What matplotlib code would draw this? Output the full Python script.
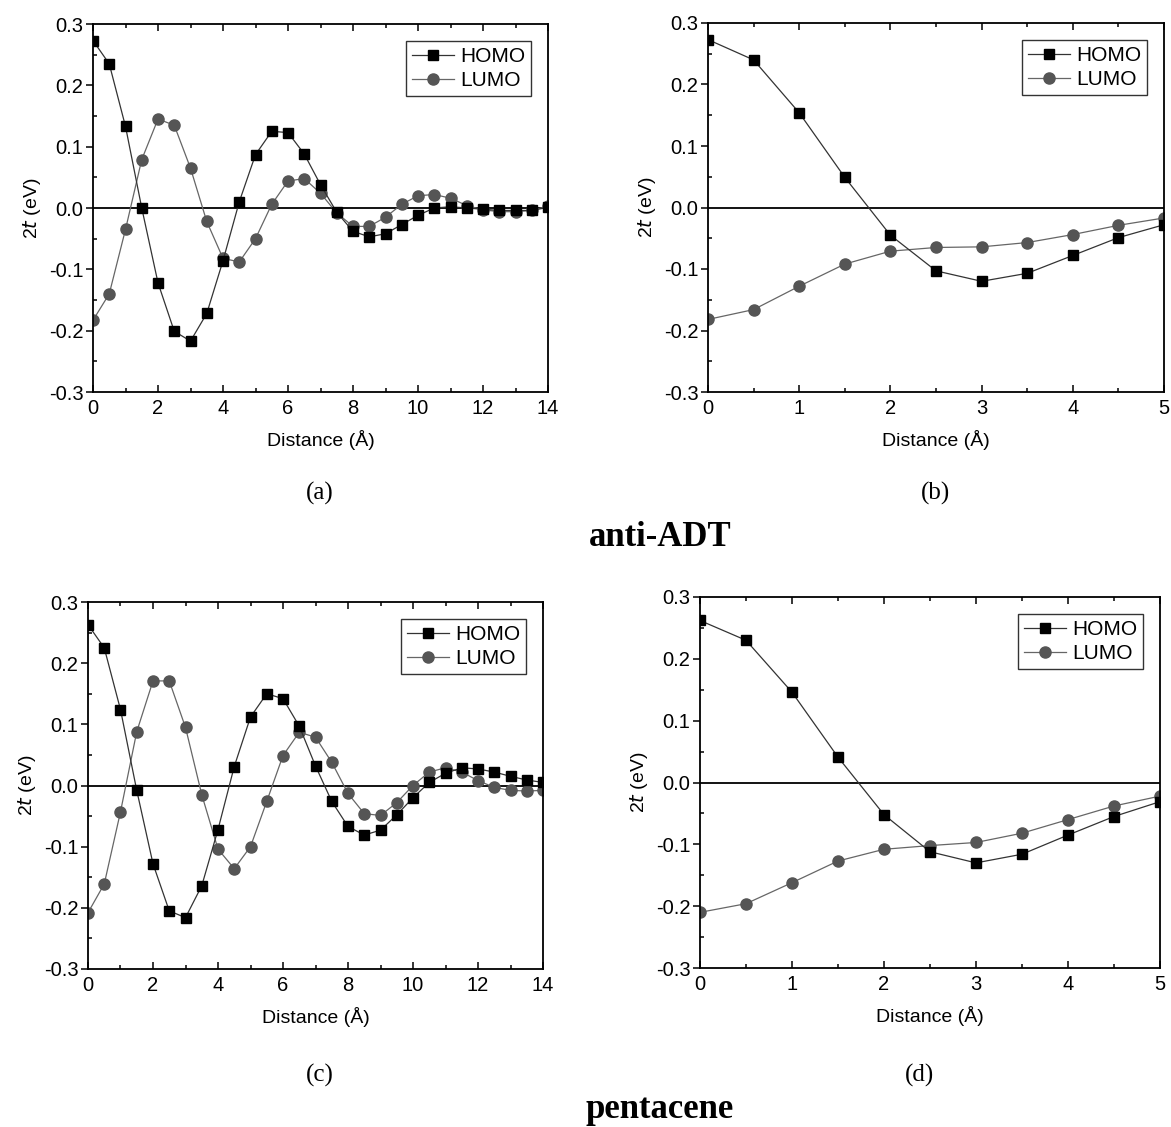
import matplotlib
matplotlib.use("Agg")
from matplotlib import pyplot as plt
from matplotlib.ticker import MultipleLocator

# distances (Angstrom)
x_long = [i * 0.5 for i in range(29)]   # 0 .. 14
x_short = [i * 0.5 for i in range(11)]  # 0 .. 5

# anti-ADT, long range
adt_homo_long = [0.273, 0.235, 0.133, 0.000, -0.122, -0.201, -0.217, -0.172, -0.086, 0.010,
                 0.087, 0.125, 0.123, 0.088, 0.038, -0.007, -0.038, -0.047, -0.042, -0.027,
                 -0.012, 0.000, 0.002, 0.000, -0.002, -0.004, -0.004, -0.004, 0.001]
adt_lumo_long = [-0.183, -0.140, -0.035, 0.079, 0.145, 0.135, 0.065, -0.022, -0.082, -0.088,
                 -0.050, 0.006, 0.044, 0.048, 0.024, -0.008, -0.030, -0.030, -0.015, 0.006,
                 0.020, 0.022, 0.016, 0.004, -0.003, -0.006, -0.006, -0.004, 0.003]
# anti-ADT, short range
adt_homo_short = [0.273, 0.240, 0.154, 0.049, -0.045, -0.103, -0.120, -0.107, -0.078, -0.049, -0.028]
adt_lumo_short = [-0.182, -0.166, -0.128, -0.092, -0.071, -0.065, -0.064, -0.057, -0.044, -0.029, -0.017]

# pentacene, long range
pen_homo_long = [0.263, 0.225, 0.124, -0.008, -0.128, -0.205, -0.216, -0.164, -0.072, 0.031,
                 0.112, 0.150, 0.142, 0.097, 0.032, -0.026, -0.067, -0.081, -0.073, -0.048,
                 -0.020, 0.005, 0.020, 0.029, 0.027, 0.022, 0.015, 0.009, 0.005]
pen_lumo_long = [-0.208, -0.161, -0.043, 0.088, 0.171, 0.171, 0.095, -0.015, -0.104, -0.136,
                 -0.100, -0.026, 0.049, 0.087, 0.079, 0.038, -0.013, -0.046, -0.049, -0.028,
                 0.000, 0.022, 0.029, 0.022, 0.008, -0.003, -0.008, -0.009, -0.008]
# pentacene, short range
pen_homo_short = [0.262, 0.230, 0.146, 0.041, -0.052, -0.112, -0.130, -0.116, -0.085, -0.055, -0.031]
pen_lumo_short = [-0.210, -0.196, -0.162, -0.127, -0.108, -0.102, -0.097, -0.082, -0.060, -0.038, -0.022]

W, H = 1171, 1127
fig = plt.figure(figsize=(W / 100, H / 100), dpi=100)
plt.rcParams['font.family'] = ['Liberation Sans', 'DejaVu Sans']


def box(l, t, r, b):
    return [l / W, 1 - b / H, (r - l) / W, (b - t) / H]


def panel(rect, xs, homo, lumo, xmax, xmajor, xminor):
    ax = fig.add_axes(rect)
    ax.axhline(0, color="black", lw=1.3, zorder=1)
    ax.plot(xs, homo, color="#333333", lw=0.9, marker="s", ms=7.5,
            mfc="black", mec="black", label="HOMO", zorder=3)
    ax.plot(xs, lumo, color="#666666", lw=0.9, marker="o", ms=8,
            mfc="#555555", mec="#555555", label="LUMO", zorder=2)
    ax.set_xlim(0, xmax)
    ax.set_ylim(-0.3, 0.3)
    ax.xaxis.set_major_locator(MultipleLocator(xmajor))
    ax.xaxis.set_minor_locator(MultipleLocator(xminor))
    ax.yaxis.set_major_locator(MultipleLocator(0.1))
    ax.yaxis.set_minor_locator(MultipleLocator(0.05))
    ax.yaxis.set_major_formatter(plt.FuncFormatter(lambda v, p: "%.1f" % v))
    ax.tick_params(axis="x", which="both", direction="in", top=True, labelsize=14.5, pad=5)
    ax.tick_params(axis="x", which="major", length=5, width=1.1)
    ax.tick_params(axis="x", which="minor", length=3, width=1.1)
    ax.tick_params(axis="y", which="major", direction="out", length=5, width=1.1,
                   labelsize=14.5, pad=2)
    ax.tick_params(axis="y", which="minor", direction="in", length=3, width=1.1)
    for s in ax.spines.values():
        s.set_linewidth(1.3)
    ax.set_xlabel("Distance (Å)", fontsize=14, labelpad=9)
    ax.set_ylabel("2$\\it{t}$ (eV)", fontsize=14, labelpad=4)
    leg = ax.legend(loc="upper right", fontsize=15, frameon=True, fancybox=False,
                    edgecolor="black", handlelength=2.0, handletextpad=0.3,
                    borderpad=0.3, labelspacing=0.25, borderaxespad=0.8)
    leg.get_frame().set_linewidth(1.0)
    return ax


panel(box(93, 24, 548, 392), x_long, adt_homo_long, adt_lumo_long, 14, 2, 1)
panel(box(708, 23, 1164, 392), x_short, adt_homo_short, adt_lumo_short, 5, 1, 0.5)
panel(box(88, 602, 543, 969), x_long, pen_homo_long, pen_lumo_long, 14, 2, 1)
panel(box(700, 597, 1160, 968), x_short, pen_homo_short, pen_lumo_short, 5, 1, 0.5)

serif = ['Liberation Serif', 'DejaVu Serif']
fig.text(320 / W, 1 - 493 / H, "(a)", ha="center", va="center", fontsize=18, family=serif)
fig.text(935 / W, 1 - 493 / H, "(b)", ha="center", va="center", fontsize=18, family=serif)
fig.text(660 / W, 1 - 537 / H, "anti-ADT", ha="center", va="center", fontsize=25,
         fontweight="bold", family=serif)
fig.text(320 / W, 1 - 1075 / H, "(c)", ha="center", va="center", fontsize=18, family=serif)
fig.text(920 / W, 1 - 1075 / H, "(d)", ha="center", va="center", fontsize=18, family=serif)
fig.text(660 / W, 1 - 1110 / H, "pentacene", ha="center", va="center", fontsize=25,
         fontweight="bold", family=serif)

fig.savefig("out.png", dpi=100)
